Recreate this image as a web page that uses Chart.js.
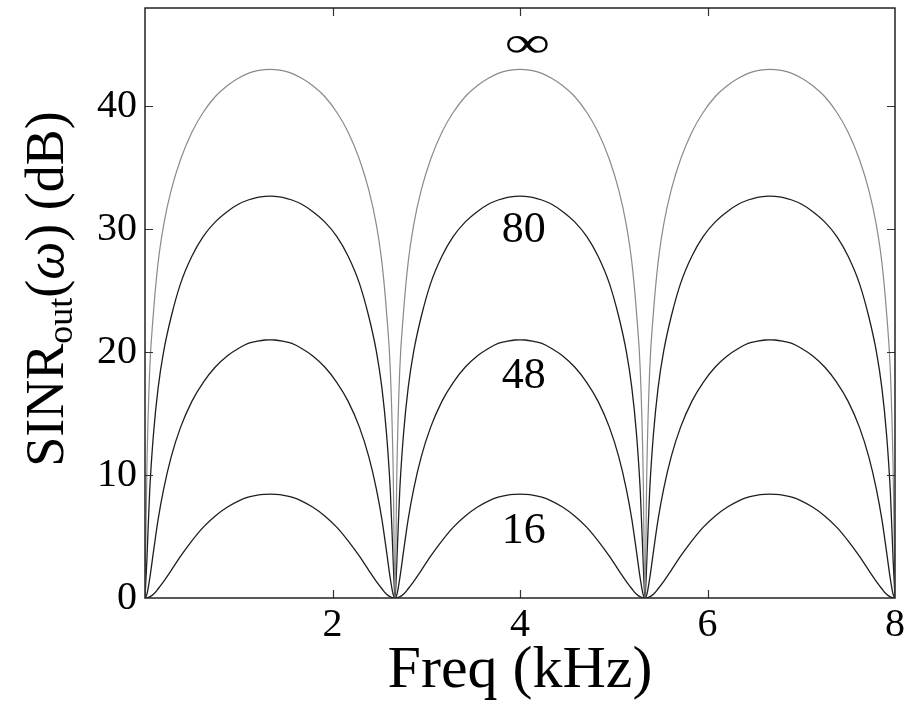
<!DOCTYPE html>
<html>
<head>
<meta charset="utf-8">
<script src="https://cdn.jsdelivr.net/npm/chart.js@4.4.1/dist/chart.umd.min.js"></script>
<style>
  html, body { margin: 0; padding: 0; background: #ffffff; }
  #wrap { width: 918px; height: 718px; position: relative; }
</style>
</head>
<body>
<div id="wrap"><canvas id="c" width="918" height="718"></canvas></div>
<script>
// ---- Data ----
const freq = [
  0, 0.02, 0.05, 0.09, 0.14, 0.2, 0.28, 0.38, 0.5, 0.62, 0.75, 0.88, 1.0, 1.1, 1.2, 1.28, 1.333,
  1.387, 1.467, 1.567, 1.667, 1.787, 1.917, 2.047, 2.167, 2.287, 2.387, 2.467, 2.527, 2.577, 2.617, 2.647, 2.667,
  2.687, 2.717, 2.757, 2.807, 2.867, 2.947, 3.047, 3.167, 3.287, 3.417, 3.547, 3.667, 3.767, 3.867, 3.947, 4.0,
  4.053, 4.133, 4.233, 4.333, 4.453, 4.583, 4.713, 4.833, 4.953, 5.053, 5.133, 5.193, 5.243, 5.283, 5.313, 5.333,
  5.353, 5.383, 5.423, 5.473, 5.533, 5.613, 5.713, 5.833, 5.953, 6.083, 6.213, 6.333, 6.433, 6.533, 6.613, 6.667,
  6.72, 6.8, 6.9, 7.0, 7.12, 7.25, 7.38, 7.5, 7.62, 7.72, 7.8, 7.86, 7.91, 7.95, 7.98, 8.0
];
const sinrInf = [
  0, 10.5, 18.5, 23.2, 27.3, 30.4, 33.2, 35.7, 37.9, 39.5, 40.8, 41.7, 42.3, 42.68, 42.9, 42.98, 43.0,
  42.98, 42.9, 42.68, 42.3, 41.7, 40.8, 39.5, 37.9, 35.7, 33.2, 30.4, 27.3, 23.2, 18.5, 10.5, 0,
  10.5, 18.5, 23.2, 27.3, 30.4, 33.2, 35.7, 37.9, 39.5, 40.8, 41.7, 42.3, 42.68, 42.9, 42.98, 43.0,
  42.98, 42.9, 42.68, 42.3, 41.7, 40.8, 39.5, 37.9, 35.7, 33.2, 30.4, 27.3, 23.2, 18.5, 10.5, 0,
  10.5, 18.5, 23.2, 27.3, 30.4, 33.2, 35.7, 37.9, 39.5, 40.8, 41.7, 42.3, 42.68, 42.9, 42.98, 43.0,
  42.98, 42.9, 42.68, 42.3, 41.7, 40.8, 39.5, 37.9, 35.7, 33.2, 30.4, 27.3, 23.2, 18.5, 10.5, 0
];
const sinr80 = [
  0, 3.1, 8.7, 13.3, 17.1, 20.1, 22.9, 25.6, 27.8, 29.4, 30.6, 31.45, 32.05, 32.38, 32.6, 32.68, 32.7,
  32.68, 32.6, 32.38, 32.05, 31.45, 30.6, 29.4, 27.8, 25.6, 22.9, 20.1, 17.1, 13.3, 8.7, 3.1, 0,
  3.1, 8.7, 13.3, 17.1, 20.1, 22.9, 25.6, 27.8, 29.4, 30.6, 31.45, 32.05, 32.38, 32.6, 32.68, 32.7,
  32.68, 32.6, 32.38, 32.05, 31.45, 30.6, 29.4, 27.8, 25.6, 22.9, 20.1, 17.1, 13.3, 8.7, 3.1, 0,
  3.1, 8.7, 13.3, 17.1, 20.1, 22.9, 25.6, 27.8, 29.4, 30.6, 31.45, 32.05, 32.38, 32.6, 32.68, 32.7,
  32.68, 32.6, 32.38, 32.05, 31.45, 30.6, 29.4, 27.8, 25.6, 22.9, 20.1, 17.1, 13.3, 8.7, 3.1, 0
];
const sinr48 = [
  0, 0.29, 1.57, 3.75, 6.4, 8.9, 11.5, 13.9, 16.0, 17.53, 18.79, 19.71, 20.32, 20.71, 20.9, 20.99, 21.0,
  20.99, 20.9, 20.71, 20.32, 19.71, 18.79, 17.53, 16.0, 13.9, 11.5, 8.9, 6.4, 3.75, 1.57, 0.29, 0,
  0.29, 1.57, 3.75, 6.4, 8.9, 11.5, 13.9, 16.0, 17.53, 18.79, 19.71, 20.32, 20.71, 20.9, 20.99, 21.0,
  20.99, 20.9, 20.71, 20.32, 19.71, 18.79, 17.53, 16.0, 13.9, 11.5, 8.9, 6.4, 3.75, 1.57, 0.29, 0,
  0.29, 1.57, 3.75, 6.4, 8.9, 11.5, 13.9, 16.0, 17.53, 18.79, 19.71, 20.32, 20.71, 20.9, 20.99, 21.0,
  20.99, 20.9, 20.71, 20.32, 19.71, 18.79, 17.53, 16.0, 13.9, 11.5, 8.9, 6.4, 3.75, 1.57, 0.29, 0
];
const sinr16 = [
  0, 0.01, 0.09, 0.3, 0.75, 1.35, 2.25, 3.4, 4.65, 5.75, 6.68, 7.4, 7.9, 8.2, 8.37, 8.43, 8.45,
  8.43, 8.37, 8.2, 7.9, 7.4, 6.68, 5.75, 4.65, 3.4, 2.25, 1.35, 0.75, 0.3, 0.09, 0.01, 0,
  0.01, 0.09, 0.3, 0.75, 1.35, 2.25, 3.4, 4.65, 5.75, 6.68, 7.4, 7.9, 8.2, 8.37, 8.43, 8.45,
  8.43, 8.37, 8.2, 7.9, 7.4, 6.68, 5.75, 4.65, 3.4, 2.25, 1.35, 0.75, 0.3, 0.09, 0.01, 0,
  0.01, 0.09, 0.3, 0.75, 1.35, 2.25, 3.4, 4.65, 5.75, 6.68, 7.4, 7.9, 8.2, 8.37, 8.43, 8.45,
  8.43, 8.37, 8.2, 7.9, 7.4, 6.68, 5.75, 4.65, 3.4, 2.25, 1.35, 0.75, 0.3, 0.09, 0.01, 0
];
const seriesNames = ['∞', '80', '48', '16'];
const xTickValues = [2, 4, 6, 8];
const yTickValues = [0, 10, 20, 30, 40];
const xFrameTicks = [2, 4, 6];
const yFrameTicks = [10, 20, 30, 40];
const xTitle = 'Freq (kHz)';

// ---- Layout / style (not data) ----
const SERIF = '"Liberation Serif"';
const labelAnchors = [ // data-space anchors for curve labels
  { text: seriesNames[0], x: 4.08, y: 45.2, scaleX: 1.45 },
  { text: seriesNames[1], x: 4.04, y: 30.15, scaleX: 1 },
  { text: seriesNames[2], x: 4.04, y: 18.3, scaleX: 1 },
  { text: seriesNames[3], x: 4.04, y: 5.7, scaleX: 1 }
];

function pts(ys) { return freq.map((f, i) => ({ x: f, y: ys[i] })); }

const decorPlugin = {
  id: 'decor',
  afterDatasetsDraw(chart) {
    const { ctx, chartArea: a, scales } = chart;
    const xs = scales.x, ys = scales.y;
    ctx.save();
    ctx.strokeStyle = '#333';
    ctx.lineWidth = 1.2;
    const tl = 8;
    ctx.beginPath();
    xFrameTicks.forEach(v => {
      const px = Math.round(xs.getPixelForValue(v)) + 0.5;
      ctx.moveTo(px, a.bottom); ctx.lineTo(px, a.bottom - tl);
      ctx.moveTo(px, a.top); ctx.lineTo(px, a.top + tl);
    });
    yFrameTicks.forEach(v => {
      const py = Math.round(ys.getPixelForValue(v)) + 0.5;
      ctx.moveTo(a.left, py); ctx.lineTo(a.left + tl, py);
      ctx.moveTo(a.right, py); ctx.lineTo(a.right - tl, py);
    });
    ctx.stroke();
    ctx.strokeStyle = '#222';
    ctx.lineWidth = 1.5;
    ctx.strokeRect(a.left, a.top, a.right - a.left, a.bottom - a.top);

    ctx.fillStyle = '#000';
    ctx.font = '44px ' + SERIF;
    ctx.textAlign = 'center';
    ctx.textBaseline = 'alphabetic';
    labelAnchors.forEach(l => {
      const px = xs.getPixelForValue(l.x);
      const py = ys.getPixelForValue(l.y);
      ctx.save();
      ctx.translate(px, py + 15);
      ctx.scale(l.scaleX, 1);
      ctx.fillText(l.text, 0, 0);
      ctx.restore();
    });

    ctx.font = '60px ' + SERIF;
    ctx.textAlign = 'center';
    ctx.fillText(xTitle, (a.left + a.right) / 2, 687);

    const big = 54, small = 36;
    const parts = [
      { t: 'SINR', f: big + 'px ' + SERIF, dy: 0 },
      { t: 'out', f: small + 'px ' + SERIF, dy: 9 },
      { t: '(', f: big + 'px ' + SERIF, dy: 0 },
      { t: 'ω', f: 'italic ' + big + 'px ' + SERIF, dy: 0 },
      { t: ') (dB)', f: big + 'px ' + SERIF, dy: 0 }
    ];
    let total = 0;
    parts.forEach(p => { ctx.font = p.f; p.w = ctx.measureText(p.t).width; total += p.w; });
    ctx.translate(45, 289);
    ctx.rotate(-Math.PI / 2);
    ctx.textAlign = 'left';
    let x0 = -total / 2;
    parts.forEach(p => {
      ctx.font = p.f;
      ctx.fillText(p.t, x0, 18 + p.dy);
      x0 += p.w;
    });
    ctx.restore();
  }
};

function build() {
  new Chart(document.getElementById('c'), {
    type: 'line',
    data: {
      datasets: [
        { label: seriesNames[0], data: pts(sinrInf), borderColor: '#8a8a8a', borderWidth: 1.2 },
        { label: seriesNames[1], data: pts(sinr80), borderColor: '#1e1e1e', borderWidth: 1.3 },
        { label: seriesNames[2], data: pts(sinr48), borderColor: '#1e1e1e', borderWidth: 1.3 },
        { label: seriesNames[3], data: pts(sinr16), borderColor: '#1e1e1e', borderWidth: 1.3 }
      ].map(d => Object.assign(d, { pointRadius: 0, fill: false, cubicInterpolationMode: 'monotone' }))
    },
    options: {
      responsive: false,
      animation: false,
      devicePixelRatio: 1,
      layout: { padding: { top: 8, right: 23, left: 0, bottom: 0 } },
      plugins: { legend: { display: false }, tooltip: { enabled: false } },
      scales: {
        x: {
          type: 'linear', min: 0, max: 8,
          grid: { display: false, drawTicks: false }, border: { display: false },
          afterBuildTicks: s => { s.ticks = xTickValues.map(v => ({ value: v })); },
          afterFit: s => { s.height = 120; s.paddingLeft = 0; s.paddingRight = 0; },
          ticks: { color: '#000', font: { family: SERIF, size: 40 }, padding: 3, maxRotation: 0,
                   callback: v => String(v) }
        },
        y: {
          type: 'linear', min: 0, max: 48,
          grid: { display: false, drawTicks: false }, border: { display: false },
          afterBuildTicks: s => { s.ticks = yTickValues.map(v => ({ value: v })); },
          afterFit: s => { s.width = 145; s.paddingTop = 0; s.paddingBottom = 0; },
          ticks: { color: '#000', font: { family: SERIF, size: 40 }, padding: 8,
                   callback: v => String(v) }
        }
      }
    },
    plugins: [decorPlugin]
  });
}

Promise.all([
  document.fonts.load('40px "Liberation Serif"'),
  document.fonts.load('italic 40px "Liberation Serif"')
]).then(build, build);
</script>
</body>
</html>
